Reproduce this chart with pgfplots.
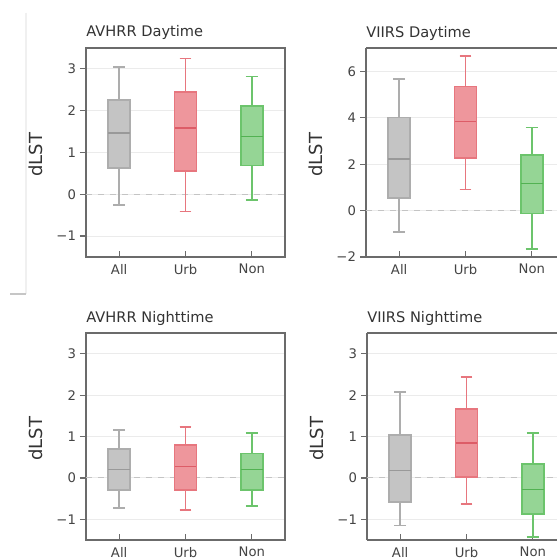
\documentclass[border={0pt -20pt -21.5pt 0pt}]{standalone}
\usepackage{fontspec}
\setmainfont{DejaVu Sans}
\usepackage{pgfplots}
\pgfplotsset{compat=1.18}
\usepgfplotslibrary{statistics}

\definecolor{framec}{HTML}{6B6B6B}
\definecolor{txtc}{HTML}{333333}
\definecolor{tickc}{HTML}{444444}
\definecolor{gridc}{HTML}{EBEBEB}
\definecolor{zeroc}{HTML}{C4C4C4}
\definecolor{allE}{HTML}{ADADAD}
\definecolor{allF}{HTML}{C4C4C4}
\definecolor{allM}{HTML}{999999}
\definecolor{urbE}{HTML}{E7767E}
\definecolor{urbF}{HTML}{EE969C}
\definecolor{urbM}{HTML}{DD5C67}
\definecolor{nonE}{HTML}{6CC46C}
\definecolor{nonF}{HTML}{95D595}
\definecolor{nonM}{HTML}{52B252}

\pgfplotsset{
  panel/.style={
    scale only axis,
    width=99.5pt,
    xmin=0.5, xmax=3.5,
    xtick={1,2,3},
    xticklabels={All,Urb,Non},
    tick align=inside,
    major tick length=3pt,
    y tick style={xshift=-3pt},
    yticklabel style={xshift=-1.5pt},
    major tick style={draw=framec, line width=0.6pt},
    axis line style={draw=framec, line width=1.1pt},
    xtick pos=bottom, ytick pos=left,
    ymajorgrids,
    major grid style={draw=gridc, line width=0.5pt},
    tick label style={font=\fontsize{6.6}{8}\selectfont, text=tickc},
    /pgf/number format/assume math mode=true,
    ylabel={dLST},
    ylabel style={font=\fontsize{9}{10}\selectfont, text=txtc,
      at={(axis description cs:-0.25,0.49)}, anchor=center},
    title style={font=\fontsize{7.3}{8}\selectfont, text=txtc, inner sep=0pt,
      at={(axis description cs:0,1)}, anchor=base west, yshift=-0.5pt},
    clip=false,
  },
  % right-hand panels run past the page edge: no right spine
  openright/.style={axis x line*=box, axis y line*=left},
  bx/.style n args={7}{
    boxplot prepared={
      lower whisker=#2, lower quartile=#3, median=#4,
      upper quartile=#5, upper whisker=#6,
      draw position=#1, box extend=0.33, whisker extend=0.18,
      draw direction=y,
      every median/.style={draw=#7M, line width=0.8pt},
    },
    draw=#7E, fill=#7F, line width=0.9pt, solid, mark=none,
  },
}

\begin{document}
\begin{tikzpicture}
% page frame (the page itself is trimmed to 278.5pt x 279pt)
\path (0,-20pt) rectangle (300pt,279pt);
\fill[white] (0,0) rectangle (278.5pt,279pt);
% thin rule at the left margin
\draw[draw=gray!12, line width=0.7pt] (13pt,272.5pt) -- (13pt,132pt);
\draw[draw=gray!45, line width=0.9pt] (5pt,132pt) -- (13pt,132pt);

% ---------------- AVHRR Daytime
\begin{axis}[panel, at={(43pt,150.5pt)}, anchor=south west, height=104.5pt,
  ymin=-1.5, ymax=3.5, ytick={-1,0,1,2,3}, yticklabels={−1,0,1,2,3},
  title={AVHRR Daytime}]
  \draw[zeroc, dashed, line width=0.5pt] (axis cs:0.5,0) -- (axis cs:3.5,0);
  \addplot[bx={1}{-0.25}{0.62}{1.46}{2.25}{3.05}{all}] coordinates {};
  \addplot[bx={2}{-0.41}{0.56}{1.59}{2.44}{3.25}{urb}] coordinates {};
  \addplot[bx={3}{-0.14}{0.69}{1.38}{2.11}{2.82}{non}] coordinates {};
\end{axis}

% ---------------- VIIRS Daytime
\begin{axis}[panel, openright, at={(183pt,150.5pt)}, anchor=south west, height=104.5pt,
  ymin=-2, ymax=7, ytick={-2,0,2,4,6}, yticklabels={−2,0,2,4,6},
  title={VIIRS Daytime}]
  \draw[zeroc, dashed, line width=0.5pt] (axis cs:0.5,0) -- (axis cs:3.5,0);
  \addplot[bx={1}{-0.92}{0.55}{2.21}{4.01}{5.66}{all}] coordinates {};
  \addplot[bx={2}{0.91}{2.28}{3.84}{5.34}{6.64}{urb}] coordinates {};
  \addplot[bx={3}{-1.65}{-0.13}{1.17}{2.38}{3.58}{non}] coordinates {};
\end{axis}

% ---------------- AVHRR Nighttime
\begin{axis}[panel, at={(43pt,9pt)}, anchor=south west, height=103.5pt,
  ymin=-1.5, ymax=3.5, ytick={-1,0,1,2,3}, yticklabels={−1,0,1,2,3},
  title={AVHRR Nighttime}]
  \draw[zeroc, dashed, line width=0.5pt] (axis cs:0.5,0) -- (axis cs:3.5,0);
  \addplot[bx={1}{-0.72}{-0.29}{0.20}{0.69}{1.15}{all}] coordinates {};
  \addplot[bx={2}{-0.78}{-0.29}{0.28}{0.79}{1.23}{urb}] coordinates {};
  \addplot[bx={3}{-0.68}{-0.29}{0.20}{0.59}{1.09}{non}] coordinates {};
\end{axis}

% ---------------- VIIRS Nighttime
\begin{axis}[panel, openright, at={(183.5pt,9pt)}, anchor=south west, height=103.5pt,
  ymin=-1.5, ymax=3.5, ytick={-1,0,1,2,3}, yticklabels={−1,0,1,2,3},
  title={VIIRS Nighttime}]
  \draw[zeroc, dashed, line width=0.5pt] (axis cs:0.5,0) -- (axis cs:3.5,0);
  \addplot[bx={1}{-1.15}{-0.58}{0.18}{1.03}{2.07}{all}] coordinates {};
  \addplot[bx={2}{-0.64}{0.03}{0.84}{1.67}{2.43}{urb}] coordinates {};
  \addplot[bx={3}{-1.42}{-0.88}{-0.28}{0.33}{1.09}{non}] coordinates {};
\end{axis}
\end{tikzpicture}
\end{document}
